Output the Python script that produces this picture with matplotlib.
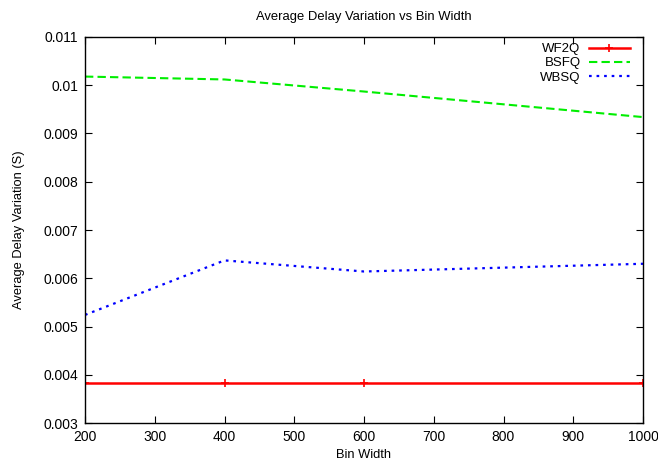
import matplotlib
matplotlib.use("Agg")
import matplotlib.pyplot as plt
from matplotlib.ticker import MultipleLocator

plt.rcParams["font.family"] = ["Liberation Sans", "DejaVu Sans"]

bin_width = [200, 400, 600, 1000]
wf2q = [0.00383, 0.00383, 0.00383, 0.00383]
bsfq = [0.01018, 0.01012, 0.00987, 0.00934]
wbsq = [0.00524, 0.00637, 0.00614, 0.00630]

fig = plt.figure(figsize=(6.58, 4.61), dpi=100)
ax = fig.add_axes([85 / 658, 1 - 423 / 461, (643 - 85) / 658, (423 - 37) / 461])

ax.plot(bin_width, wf2q, "-", color="#ff0000", lw=1.8, marker="+", ms=6, mew=1.2, label="WF2Q")
ax.plot(bin_width, bsfq, color="#00ee00", lw=1.5, dashes=(4, 2), label="BSFQ")
ax.plot(bin_width, wbsq, color="#0000ff", lw=1.6, dashes=(1.2, 2.2), label="WBSQ")

ax.set_xlim(200, 1000)
ax.set_ylim(0.003, 0.011)
ax.xaxis.set_major_locator(MultipleLocator(100))
ax.yaxis.set_major_locator(MultipleLocator(0.001))
ax.set_yticklabels([f"{v:g}" for v in ax.get_yticks()])
ax.tick_params(direction="in", top=True, right=True, length=5, width=0.8,
               labelsize=10, pad=5)
for s in ax.spines.values():
    s.set_linewidth(1.0)

ax.set_title("Average Delay Variation vs Bin Width", fontsize=9.4, pad=12)
ax.set_xlabel("Bin Width", fontsize=9.3, labelpad=3.5)
ax.set_ylabel("Average Delay Variation (S)", fontsize=9.3, labelpad=13)

leg = ax.legend(loc="upper right", markerfirst=False, frameon=False, fontsize=9.5,
                handlelength=3.1, handletextpad=0.6, labelspacing=0.15,
                borderaxespad=0.2, bbox_to_anchor=(0.99, 1.005))
for t in leg.get_texts():
    t.set_horizontalalignment("right")

fig.savefig("out.png", dpi=100)
